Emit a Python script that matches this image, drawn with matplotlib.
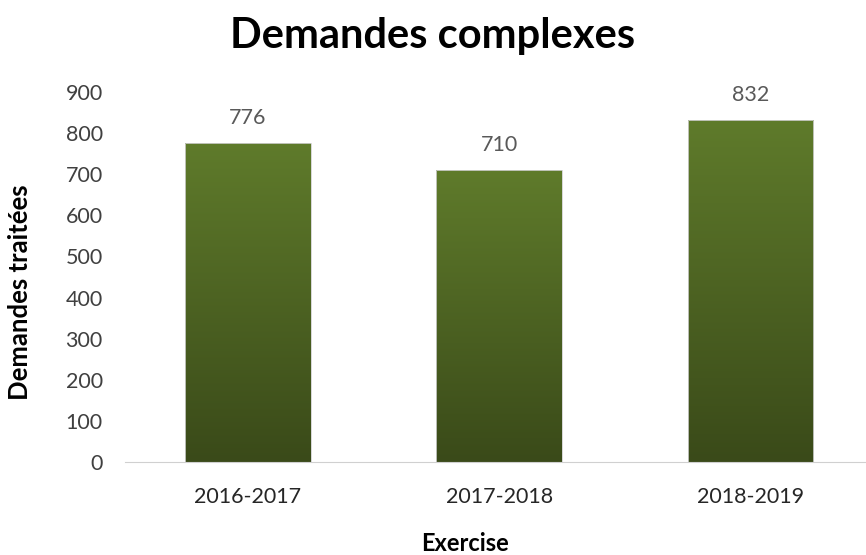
import numpy as np
import matplotlib.pyplot as plt
from matplotlib.colors import LinearSegmentedColormap

plt.rcParams['font.family'] = ['Lato', 'DejaVu Sans']

# Chart data
exercices = ['2016-2017', '2017-2018', '2018-2019']
demandes = [776, 710, 832]
y_ticks = [0, 100, 200, 300, 400, 500, 600, 700, 800, 900]

fig = plt.figure(figsize=(8.66, 5.55), dpi=100)
ax = fig.add_axes([0.1443, 0.1676, 0.8557, 0.6667])

x = np.arange(len(exercices))
bars = ax.bar(x, demandes, width=0.5, color='none', edgecolor='#d0d0d0', linewidth=0.6, zorder=2)

# vertical gradient inside each bar
grad_cmap = LinearSegmentedColormap.from_list('grn', ['#3a4a19', '#5f7b2b'])
gradient = np.linspace(0, 1, 256).reshape(-1, 1)
for b in bars:
    x0, y0 = b.get_x(), b.get_y()
    w, h = b.get_width(), b.get_height()
    im = ax.imshow(gradient, cmap=grad_cmap, aspect='auto', origin='lower',
                   extent=[x0, x0 + w, y0, y0 + h], zorder=1)
    im.set_clip_path(b)

for xi, v in zip(x, demandes):
    ax.text(xi, v + 37, str(v), ha='center', va='bottom', fontsize=15.5, color='#595959')

ax.set_xlim(-0.49, 2.46)
ax.set_ylim(0, 900)
ax.set_xticks(x)
ax.set_xticklabels(exercices, fontsize=15.5, color='#262626')
ax.set_yticks(y_ticks)
ax.set_yticklabels([str(t) for t in y_ticks], fontsize=15.5, color='#404040')
ax.tick_params(axis='both', length=0)
ax.tick_params(axis='x', pad=18)
ax.tick_params(axis='y', pad=16)

for s in ['top', 'right', 'left']:
    ax.spines[s].set_visible(False)
ax.spines['bottom'].set_color('#d0d0d0')

ax.set_xlabel('Exercise', fontsize=17, fontweight='bold', color='#000000')
ax.set_ylabel('Demandes traitées', fontsize=18.5, fontweight='bold', color='#000000')
ax.xaxis.set_label_coords(0.459, -0.19)
ax.yaxis.set_label_coords(-0.1255, 0.46)
fig.text(0.5, 0.935, 'Demandes complexes', ha='center', va='center', fontsize=30,
         fontweight='bold', color='#000000')

plt.savefig('out.png', dpi=100)
